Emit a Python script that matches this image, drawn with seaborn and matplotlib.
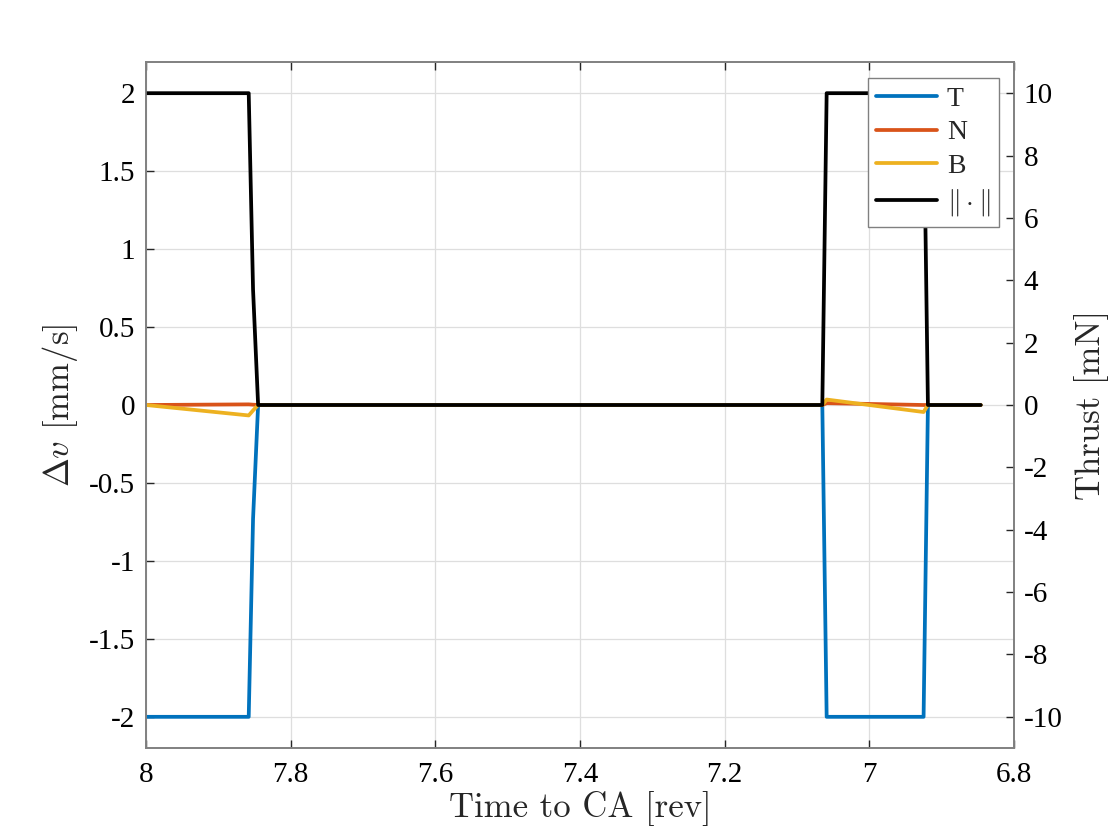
import numpy as np
import pandas as pd
import seaborn as sns
import matplotlib
matplotlib.use("Agg")
import matplotlib.pyplot as plt
from matplotlib.ticker import FuncFormatter

# time to closest approach [rev] and the burn profile
time_rev = [8.0, 7.858, 7.852, 7.845, 7.065, 7.059, 6.925, 6.919, 6.846]
dv_T = [-2.0, -2.0, -0.73, 0.0, 0.0, -2.0, -2.0, 0.0, 0.0]
dv_N = [0.0, 0.004, 0.002, 0.0, 0.0, 0.012, 0.0, 0.0, 0.0]
dv_B = [0.0, -0.067, -0.035, 0.0, 0.0, 0.035, -0.045, 0.0, 0.0]
thrust_norm = [10.0, 10.0, 3.7, 0.0, 0.0, 10.0, 10.0, 0.0, 0.0]

x_ticks = [8.0, 7.8, 7.6, 7.4, 7.2, 7.0, 6.8]
dv_ticks = [-2, -1.5, -1, -0.5, 0, 0.5, 1, 1.5, 2]
thrust_ticks = [-10, -8, -6, -4, -2, 0, 2, 4, 6, 8, 10]

colors = {"T": "#0072BD", "N": "#D95319", "B": "#EDB120"}

df = pd.DataFrame({"time": time_rev, "T": dv_T, "N": dv_N, "B": dv_B})
df_long = df.melt(id_vars="time", var_name="comp", value_name="dv")
df_norm = pd.DataFrame({"time": time_rev, "thrust": thrust_norm})

sns.set_theme(style="whitegrid")
plt.rcParams["font.family"] = ["Liberation Serif", "DejaVu Serif"]
plt.rcParams["mathtext.fontset"] = "cm"
plt.rcParams["axes.unicode_minus"] = False

fig = plt.figure(figsize=(11.2, 8.4), dpi=100)
ax = fig.add_axes([146 / 1120, 92 / 840, 868 / 1120, 686 / 840])
ax2 = ax.twinx()

lw = 2.7
sns.lineplot(data=df_long, x="time", y="dv", hue="comp", palette=colors,
             hue_order=["T", "N", "B"], linewidth=lw, sort=False,
             estimator=None, ax=ax, legend=False)
sns.lineplot(data=df_norm, x="time", y="thrust", color="black",
             linewidth=lw, sort=False, estimator=None, ax=ax2)

ax.set_xlim(8.0, 6.8)
ax.set_ylim(-2.2, 2.2)
ax2.set_ylim(-11, 11)
ax.set_xticks(x_ticks)
ax.set_yticks(dv_ticks)
ax2.set_yticks(thrust_ticks)
fmt = FuncFormatter(lambda v, p: "%g" % v)
ax.xaxis.set_major_formatter(fmt)
ax.yaxis.set_major_formatter(fmt)
ax2.yaxis.set_major_formatter(fmt)

ax.set_facecolor("white")
ax.grid(True, color="#dedede", linewidth=0.9)
ax2.grid(False)
for a in (ax, ax2):
    for s in a.spines.values():
        s.set_color("#808080")
        s.set_linewidth(1.2)
ax.tick_params(axis="both", which="both", direction="in", length=6,
               width=1.0, color="#262626", labelsize=21, labelcolor="black",
               top=True, left=True, bottom=True)
ax.tick_params(axis="x", pad=10)
ax.tick_params(axis="y", pad=8)
ax2.tick_params(axis="y", direction="in", length=6, width=1.0,
                color="#262626", labelsize=21, labelcolor="black", pad=7,
                right=True)

lab_font = dict(family="cmr10", size=25)
ax.set_xlabel("Time to CA [rev]", fontdict=lab_font, labelpad=2)
ax.set_ylabel(r"$\Delta v$ [mm/s]", fontdict=lab_font, labelpad=6)
ax2.set_ylabel("Thrust [mN]", fontdict=lab_font, labelpad=8)

handles = [plt.Line2D([], [], color=colors[k], linewidth=lw) for k in ["T", "N", "B"]]
handles.append(plt.Line2D([], [], color="black", linewidth=lw))
leg = ax2.legend(handles, ["T", "N", "B", r"$\|\cdot\|$"], loc="upper right",
                 bbox_to_anchor=(0.9825, 0.977), fontsize=20, frameon=True,
                 fancybox=False, framealpha=1, edgecolor="#808080",
                 handlelength=2.2, handletextpad=0.35, borderpad=0.3,
                 labelspacing=0.3, borderaxespad=0)
leg.get_frame().set_linewidth(1.0)

fig.savefig("out.png", dpi=100, facecolor="white")
